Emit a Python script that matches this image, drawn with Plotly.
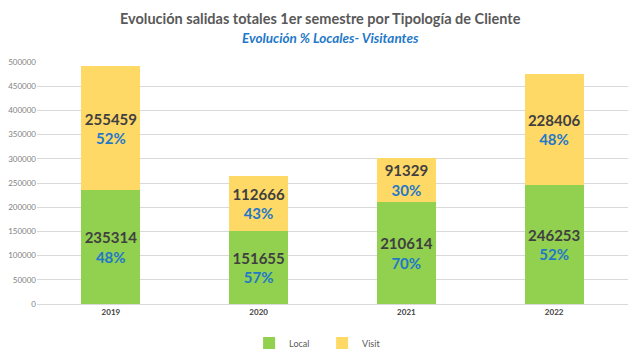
import plotly.graph_objects as go

years = ["2019", "2020", "2021", "2022"]
local = [235314, 151655, 210614, 246253]
visit = [255459, 112666, 91329, 228406]
local_pct = ["48%", "57%", "70%", "52%"]
visit_pct = ["52%", "43%", "30%", "48%"]
y_ticks = [0, 50000, 100000, 150000, 200000, 250000, 300000, 350000, 400000, 450000, 500000]

NUM_COLOR = "#404040"
PCT_COLOR = "#1F78C8"

def seg_text(vals, pcts):
    return [f"<b>{v}</b><br><b><span style='color:{PCT_COLOR}'>{p}</span></b>" for v, p in zip(vals, pcts)]

fig = go.Figure()
for name, vals, pcts, col in [("Local", local, local_pct, "#92D050"), ("Visit", visit, visit_pct, "#FFD966")]:
    fig.add_trace(go.Bar(
        x=years, y=vals, name=name, marker_color=col, marker_line_width=0,
        text=seg_text(vals, pcts), textposition="inside", insidetextanchor="middle",
        textangle=0, constraintext="none",
        textfont=dict(size=15, color=NUM_COLOR, family="Lato"), width=0.4,
    ))

fig.update_layout(
    barmode="stack",
    width=632, height=352,
    margin=dict(l=29, r=12, t=54, b=56, autoexpand=False),
    paper_bgcolor="white", plot_bgcolor="white",
    font=dict(family="Lato", color="#595959"),
    uniformtext=dict(mode=False),
    legend=dict(orientation="h", x=0.497, xanchor="center", xref="container",
                y=0.048, yanchor="middle", yref="container",
                font=dict(size=9, color="#595959"), itemwidth=30,
                entrywidth=28, entrywidthmode="pixels", traceorder="normal"),
    annotations=[
        dict(text="<b>Evolución salidas totales 1er semestre por Tipología de Cliente</b>",
             xref="paper", yref="paper", x=0.5, y=1, xanchor="center", yanchor="middle",
             yshift=54 - 10, xshift=-12, showarrow=False,
             font=dict(size=14.5, color="#595959", family="Lato")),
        dict(text="<b><i>Evolución % Locales- Visitantes</i></b>",
             xref="paper", yref="paper", x=0.5, y=1, xanchor="center", yanchor="middle",
             yshift=54 - 30, xshift=-2, showarrow=False,
             font=dict(size=13.5, color=PCT_COLOR, family="Lato")),
    ],
)
fig.update_yaxes(range=[0, 500000], tickvals=y_ticks, ticktext=[str(t) for t in y_ticks],
                 showgrid=True, gridcolor="#D9D9D9", gridwidth=1, zeroline=False, automargin=False,
                 tickfont=dict(size=8, color="#7F7F7F"), showline=False, ticks="")
fig.update_xaxes(tickfont=dict(size=8, color="#404040"), showline=True, linecolor="#D9D9D9",
                 automargin=False, tickprefix="<b>", ticksuffix="</b>")

fig.write_html("out.html")
